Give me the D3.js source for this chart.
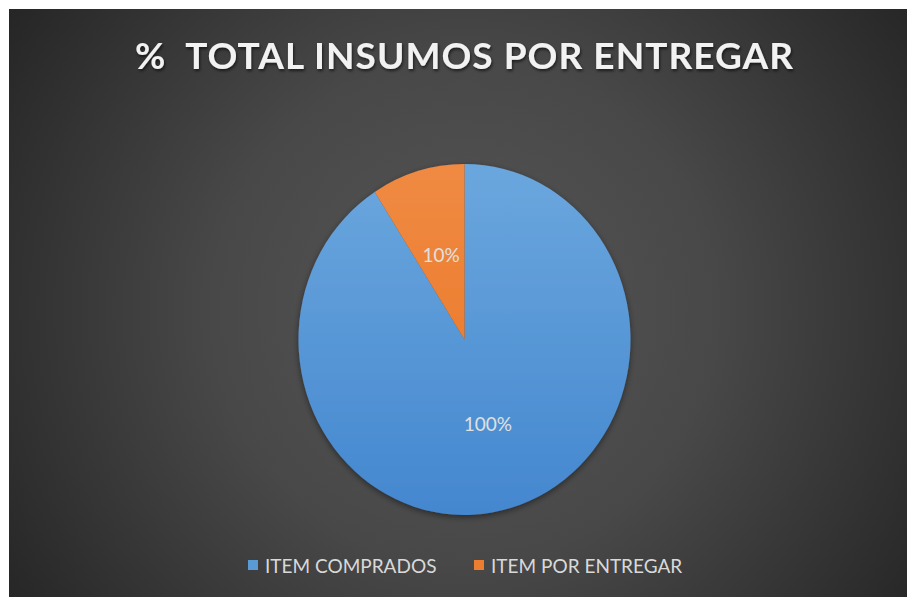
<!DOCTYPE html>
<html lang="es">
    <head>
        <meta charset="utf-8">
        <title>% TOTAL INSUMOS POR ENTREGAR</title>
        <script type="text/javascript" src="https://cdn.jsdelivr.net/npm/d3@7/dist/d3.min.js"></script>
        <style type="text/css">
            html, body { margin: 0; padding: 0; background: #ffffff; }
            svg { display: block; }
            text { font-family: Lato, "Open Sans", sans-serif; }
        </style>
    </head>
    <body>
        <div class="chart"></div>
        <script type="text/javascript">
            // datos
            var categories = ["ITEM COMPRADOS", "ITEM POR ENTREGAR"];
            var values = [100, 10];
            var labels = ["100%", "10%"];
            var colors = ["#5b9bd5", "#ed7d31"];
            var title = "%  TOTAL INSUMOS POR ENTREGAR";

            var w = 907;
            var h = 597;
            var cx = 464.5, cy = 339.5;
            var r = 166;
            var sy = 1.057;   // la imagen original esta un poco estirada en vertical

            // tonos claro/oscuro para el degradado de cada sector
            var topTone = ["#6ba7de", "#f08a43"];
            var bottomTone = ["#4487cf", "#e8731f"];

            var svg = d3.select("div.chart")
                        .append("svg")
                        .attr("width", w)
                        .attr("height", h);

            var defs = svg.append("defs");

            // fondo con degradado radial
            var bg = defs.append("radialGradient")
                         .attr("id", "bg")
                         .attr("gradientUnits", "userSpaceOnUse")
                         .attr("cx", 465).attr("cy", 310).attr("r", 560);
            bg.append("stop").attr("offset", "0%").attr("stop-color", "#565656");
            bg.append("stop").attr("offset", "45%").attr("stop-color", "#484848");
            bg.append("stop").attr("offset", "100%").attr("stop-color", "#242424");

            colors.forEach(function(c, i){
                var g = defs.append("linearGradient")
                            .attr("id", "slice" + i)
                            .attr("gradientUnits", "userSpaceOnUse")
                            .attr("x1", 0).attr("y1", -r).attr("x2", 0).attr("y2", r);
                g.append("stop").attr("offset", "0%").attr("stop-color", topTone[i]);
                g.append("stop").attr("offset", "100%").attr("stop-color", bottomTone[i]);
            });

            var shadow = defs.append("filter")
                             .attr("id", "shadow")
                             .attr("x", "-20%").attr("y", "-20%")
                             .attr("width", "140%").attr("height", "140%");
            shadow.append("feDropShadow")
                  .attr("dx", 0).attr("dy", 2)
                  .attr("stdDeviation", 3)
                  .attr("flood-color", "#000000")
                  .attr("flood-opacity", 0.45);

            var tshadow = defs.append("filter").attr("id", "tshadow");
            tshadow.append("feDropShadow")
                   .attr("dx", 1).attr("dy", 2)
                   .attr("stdDeviation", 1.5)
                   .attr("flood-color", "#000000")
                   .attr("flood-opacity", 0.6);

            svg.append("rect")
               .attr("x", 9).attr("y", 9)
               .attr("width", w - 9).attr("height", h - 9)
               .attr("fill", "url(#bg)");

            // titulo
            svg.append("text")
               .attr("x", 464)
               .attr("y", 69)
               .attr("text-anchor", "middle")
               .attr("xml:space", "preserve")
               .style("white-space", "pre")
               .attr("textLength", 658)
               .attr("lengthAdjust", "spacing")
               .attr("font-size", 37)
               .attr("font-weight", "bold")
               .attr("fill", "#f2f2f2")
               .attr("filter", "url(#tshadow)")
               .text(title);

            // pastel
            var data = categories.map(function(c, i){ return {name: c, value: values[i], label: labels[i], i: i}; });
            var pie = d3.pie().sort(null).value(function(d){ return d.value; });
            var arc = d3.arc().innerRadius(0).outerRadius(r);
            var arcs = pie(data);

            var pieG = svg.append("g")
                          .attr("transform", "translate(" + cx + "," + cy + ") scale(1," + sy + ")")
                          .attr("filter", "url(#shadow)");
            pieG.selectAll("path")
                .data(arcs)
                .enter()
                .append("path")
                .attr("d", arc)
                .attr("fill", function(d){ return "url(#slice" + d.data.i + ")"; });

            // etiquetas de datos
            svg.selectAll("text.label")
               .data(arcs)
               .enter()
               .append("text")
               .attr("class", "label")
               .attr("x", function(d){ return cx + arc.centroid(d)[0]; })
               .attr("y", function(d){ return cy + arc.centroid(d)[1] * sy + 7; })
               .attr("text-anchor", "middle")
               .attr("font-size", 19)
               .attr("fill", "#e0e0e0")
               .text(function(d){ return d.data.label; });

            // leyenda
            var legendX = [248, 474];
            var legend = svg.selectAll("g.legend")
                            .data(data)
                            .enter()
                            .append("g")
                            .attr("class", "legend")
                            .attr("transform", function(d, i){ return "translate(" + legendX[i] + ",560)"; });
            legend.append("rect")
                  .attr("width", 10).attr("height", 10)
                  .attr("fill", function(d){ return colors[d.i]; });
            legend.append("text")
                  .attr("x", 17)
                  .attr("y", 13)
                  .attr("font-size", 19)
                  .attr("fill", "#d9d9d9")
                  .text(function(d){ return d.name; });
        </script>
    </body>
</html>
